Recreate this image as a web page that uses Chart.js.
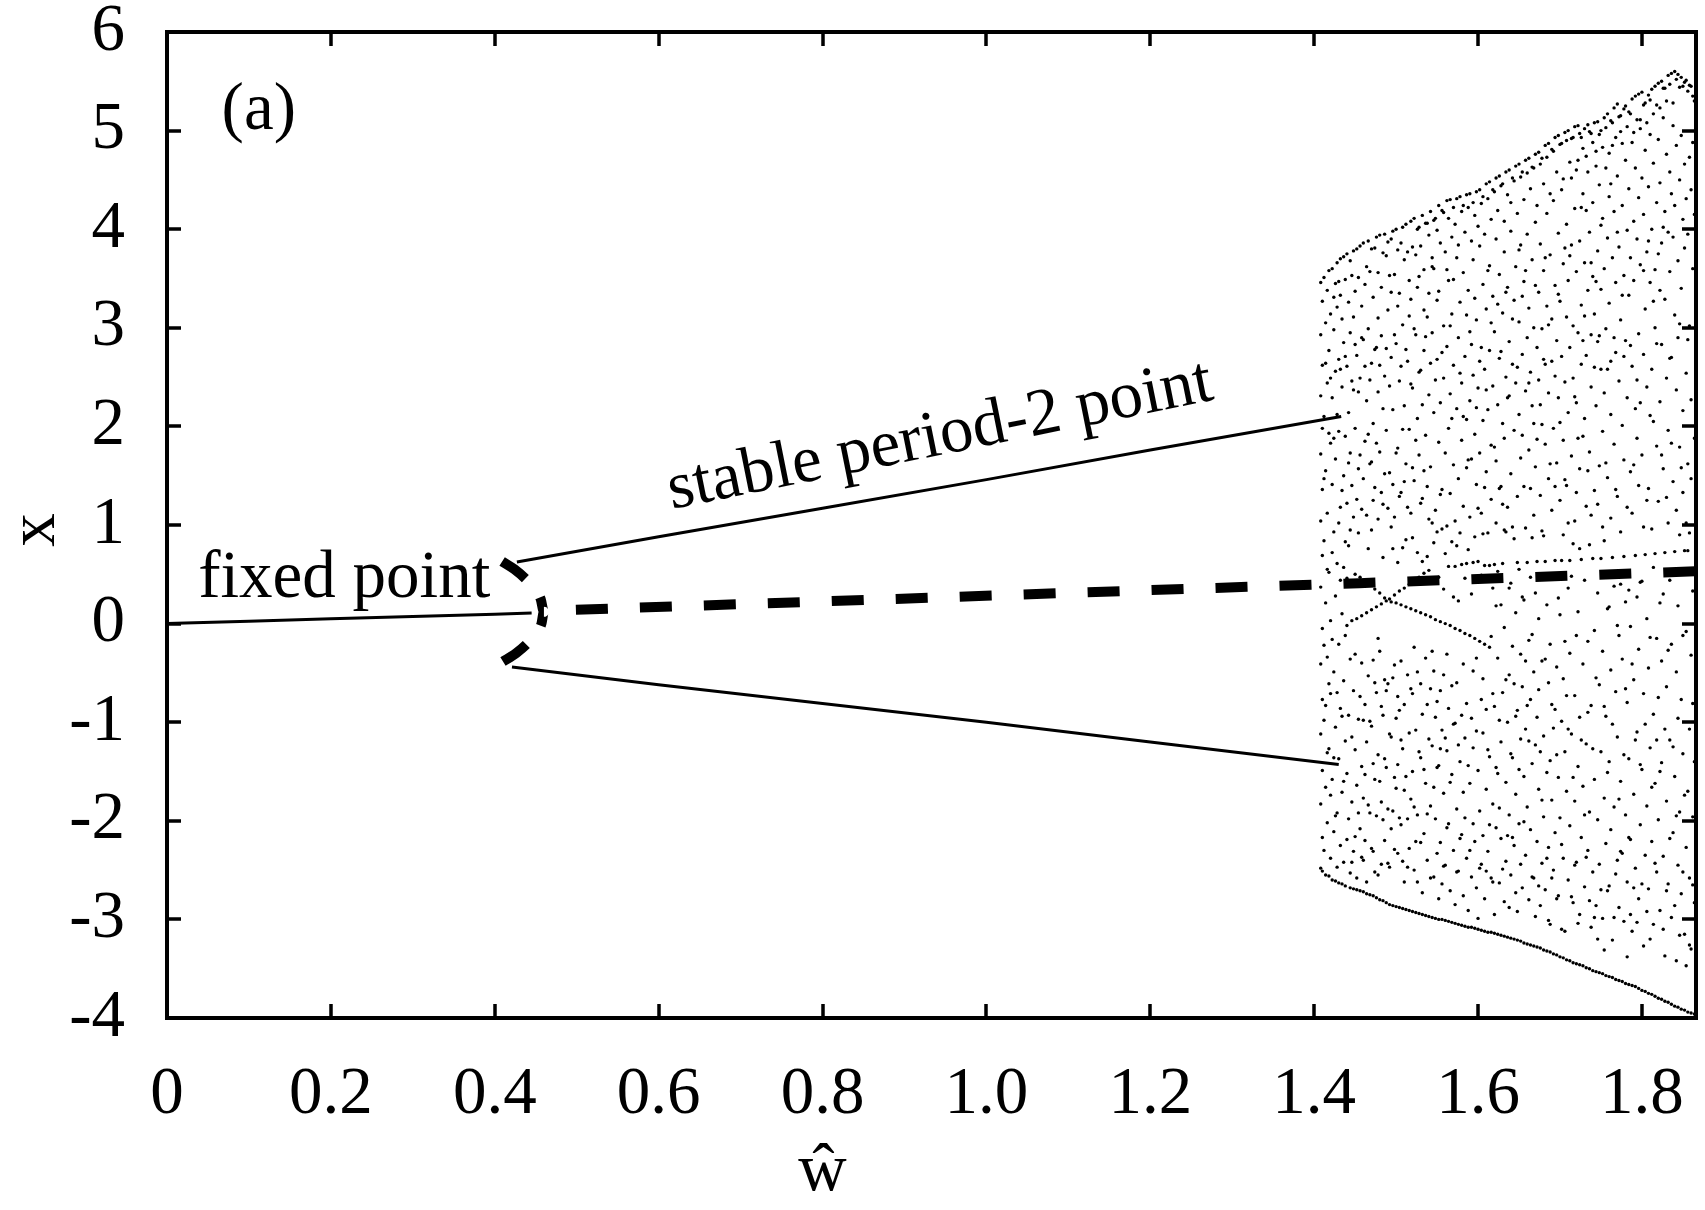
<!DOCTYPE html>
<html>
<head>
<meta charset="utf-8">
<script src="https://cdn.jsdelivr.net/npm/chart.js@4.4.1/dist/chart.umd.min.js"></script>
<style>
  html, body { margin: 0; padding: 0; background: #fff; }
  #wrap { width: 1705px; height: 1210px; }
</style>
</head>
<body>
<div id="wrap"><canvas id="bifurcation" width="1705" height="1210"></canvas></div>
<script>
//////////////////////////////
/////// Diagram values ///////
//////////////////////////////

// axis ticks
const xTickValues = [0, 0.2, 0.4, 0.6, 0.8, 1.0, 1.2, 1.4, 1.6, 1.8];
const xTickLabels = ['0', '0.2', '0.4', '0.6', '0.8', '1.0', '1.2', '1.4', '1.6', '1.8'];
const yTickValues = [-4, -3, -2, -1, 0, 1, 2, 3, 4, 5, 6];
const yTickLabels = ['-4', '-3', '-2', '-1', '0', '1', '2', '3', '4', '5', '6'];

// stable fixed point (w, x)
const fixedW = [0, 0.1, 0.2, 0.3, 0.4, 0.445];
const fixedX = [0, 0.024, 0.048, 0.072, 0.096, 0.107];

// stable period-2 orbit, upper and lower branch
const upperW = [0.427, 0.6, 0.8, 1.0, 1.2, 1.433];
const upperX = [0.625, 0.88, 1.17, 1.46, 1.76, 2.10];
const lowerW = [0.421, 0.6, 0.8, 1.0, 1.2, 1.43];
const lowerX = [-0.44, -0.62, -0.81, -1.0, -1.2, -1.43];

// unstable orbit near the bifurcation (turns back at w ~ 0.46)
const arcW = [0.409, 0.424, 0.438, 0.449, 0.456, 0.460, 0.457, 0.450, 0.440, 0.426, 0.409];
const arcX = [0.63, 0.55, 0.45, 0.35, 0.25, 0.12, 0.0, -0.1, -0.2, -0.3, -0.39];

// unstable fixed point
const unstableW = [0.46, 0.8, 1.2, 1.455, 1.866];
const unstableX = [0.13, 0.225, 0.34, 0.41, 0.53];

// chaotic band: w values of the sampled columns
const chaosW = [
  1.408, 1.410, 1.412, 1.414, 1.416, 1.418, 1.420, 1.422, 1.424, 1.426,
  1.428, 1.430, 1.432, 1.434, 1.436, 1.438, 1.440, 1.442, 1.444, 1.446,
  1.448, 1.450, 1.452, 1.454, 1.456, 1.458, 1.460, 1.462, 1.464, 1.466,
  1.468, 1.470, 1.472, 1.474, 1.476, 1.478, 1.480, 1.482, 1.484, 1.486,
  1.488, 1.490, 1.492, 1.494, 1.496, 1.498, 1.500, 1.502, 1.504, 1.506,
  1.508, 1.510, 1.512, 1.514, 1.516, 1.518, 1.520, 1.522, 1.524, 1.526,
  1.528, 1.530, 1.532, 1.534, 1.536, 1.538, 1.540, 1.542, 1.544, 1.546,
  1.548, 1.550, 1.552, 1.554, 1.556, 1.558, 1.560, 1.562, 1.564, 1.566,
  1.568, 1.570, 1.572, 1.574, 1.576, 1.578, 1.580, 1.582, 1.584, 1.586,
  1.588, 1.590, 1.592, 1.594, 1.596, 1.598, 1.600, 1.602, 1.604, 1.606,
  1.608, 1.610, 1.612, 1.614, 1.616, 1.618, 1.620, 1.622, 1.624, 1.626,
  1.628, 1.630, 1.632, 1.634, 1.636, 1.638, 1.640, 1.642, 1.644, 1.646,
  1.648, 1.650, 1.652, 1.654, 1.656, 1.658, 1.660, 1.662, 1.664, 1.666,
  1.668, 1.670, 1.672, 1.674, 1.676, 1.678, 1.680, 1.682, 1.684, 1.686,
  1.688, 1.690, 1.692, 1.694, 1.696, 1.698, 1.700, 1.702, 1.704, 1.706,
  1.708, 1.710, 1.712, 1.714, 1.716, 1.718, 1.720, 1.722, 1.724, 1.726,
  1.728, 1.730, 1.732, 1.734, 1.736, 1.738, 1.740, 1.742, 1.744, 1.746,
  1.748, 1.750, 1.752, 1.754, 1.756, 1.758, 1.760, 1.762, 1.764, 1.766,
  1.768, 1.770, 1.772, 1.774, 1.776, 1.778, 1.780, 1.782, 1.784, 1.786,
  1.788, 1.790, 1.792, 1.794, 1.796, 1.798, 1.800, 1.802, 1.804, 1.806,
  1.808, 1.810, 1.812, 1.814, 1.816, 1.818, 1.820, 1.822, 1.824, 1.826,
  1.828, 1.830, 1.832, 1.834, 1.836, 1.838, 1.840, 1.842, 1.844, 1.846,
  1.848, 1.850, 1.852, 1.854, 1.856, 1.858, 1.860, 1.862, 1.864
];

// iterates x for each column above
const chaosX = [
  // 1.408
  [3.46, 2.93, 2.31, 1.72, 1.04, 0.37, -0.41, -1.12, -1.83, -2.48],
  [3.27, 2.62, 1.98, 1.36, 0.69, -0.05, -0.77, -1.49, -2.17, -2.51],
  [3.51, 2.10, 0.84, -0.98, -2.30, 1.47, -0.22],
  [3.05, 1.55, 0.21, -1.66, -2.55, 2.64, -0.83],
  [3.38, 2.44, 1.12, -0.34, -2.02, 0.55, -1.31],
  [3.58, 2.77, 0.52, -1.27, -2.56, 1.93, -0.61],
  [3.14, 1.83, 0.03, -0.71, -2.38, 2.49, -1.74],
  [3.60, 2.29, 1.41, -1.58, -2.60, 0.72, -0.16],
  [2.98, 0.93, -0.49, -2.11, 3.31, 1.88, -1.36],
  [3.45, 2.56, 1.67, 0.28, -1.05, -2.61, -1.95],
  // 1.428
  [3.66, 3.21, 0.61, -1.92, -2.47, 2.12, -0.70],
  [2.68, 1.95, -0.21, -1.37, -2.63, 3.47, 1.02],
  [3.70, 3.33, 1.18, 0.44, -0.86, -2.25, 2.58],
  [3.09, 2.40, 0.10, -1.71, -2.64, 1.35, -0.94],
  [3.72, 2.85, 1.50, 0.57, -0.58, -2.42, -1.60],
  [3.49, 1.90, -0.12, -1.19, -2.66, 2.71, 0.83],
  [3.75, 2.61, 1.22, -0.02, -1.52, -2.19, 0.46],
  [3.26, 2.14, -0.93, 1.63, -1.98, 0.79],
  [3.68, 2.95, 1.73, -0.36, -2.53, -2.68, 0.95],
  [3.53, 1.40, 0.03, -1.81, 2.46, -1.15, -2.42],
  // 1.448
  [3.78, 3.11, 2.37, -0.68, -2.31, -2.69, 1.08],
  [3.37, 1.98, 0.50, -1.28, 2.83, -0.31, -2.16],
  [3.80, 2.72, 0.05, -1.64, -2.58, -2.70, 1.26],
  [3.51, 1.57, -0.97, 2.35, 0.92, -1.92],
  [3.83, 2.49, 0.47, -2.08, -2.71, -0.74, 1.71],
  [3.22, 1.16, 0.08, -1.45, 2.90, -0.40, -2.37],
  [3.86, 2.88, -1.77, -2.40, -2.72, 1.47, -0.98],
  [3.44, 1.85, 0.43, -0.82, 2.61, -1.53, -2.20],
  [3.62, 2.26, 0.11, -1.20, -2.62, -2.74, 1.10],
  [3.88, 2.99, -0.53, 1.92, -1.84, 0.76],
  // 1.468
  [3.57, 1.62, 0.39, -1.92, -2.75, 2.47, -0.99],
  [3.80, 2.64, 0.95, 0.14, -1.04, -2.28, 1.64],
  [3.31, 2.03, -0.37, -2.31, -2.76, 1.25, -1.42],
  [3.81, 1.38, 0.35, -1.58, 2.78, -0.60, -2.52],
  [3.92, 2.80, 0.17, -0.70, -2.78, 1.83, -1.95],
  [3.56, 2.35, -1.33, -2.55, 1.06, -0.15, 3.10],
  [3.94, 1.74, 0.31, -0.28, -2.80, 2.62, -1.60],
  [3.41, 2.92, 0.20, -1.81, 1.33, -0.84, -2.44],
  [3.76, 1.21, -0.93, -2.81, 2.18, 0.67, -1.99],
  [3.95, 2.51, 0.26, -2.20, 1.52, -0.57, -1.37],
  // 1.488
  [3.73, 1.96, 0.23, -1.46, -2.83, 2.79, -0.68],
  [3.87, 3.18, -0.61, 1.17, -1.88, -2.43],
  [3.53, 1.53, 0.25, -2.47, -2.85, 2.41, -1.12],
  [3.90, 2.70, 0.22, -1.15, 0.98, -2.08, 3.36],
  [3.98, 2.17, -1.90, -2.86, 1.41, -0.55, 0.76],
  [3.54, 1.08, 0.29, -0.42, 2.93, -1.56, -2.29],
  [4.00, 2.84, 0.21, -1.67, -2.87, 1.73, -0.96],
  [3.79, 1.78, -2.33, 3.22, 0.62, -0.74, -1.43],
  [3.35, 2.46, 0.33, -0.88, -2.88, 1.29, -1.97],
  [3.86, 1.33, 0.19, -2.04, 2.61, -1.18, -0.38],
  // 1.508
  [4.02, 3.03, -1.27, -2.89, 1.97, 0.77, -2.41],
  [3.69, 2.21, 0.36, -2.62, 1.44, -0.82, -1.69],
  [4.05, 1.62, 0.85, 0.17, -1.55, -2.90, 2.78],
  [3.77, 2.66, -0.52, 1.18, -1.98, -2.47],
  [3.48, 1.97, 0.40, -2.28, -2.91, 3.12, -1.11],
  [4.08, 3.29, 1.12, 0.15, -1.78, -0.66, 2.43],
  [3.82, 2.39, -0.71, -2.92, 1.58, -1.50, 0.87],
  [4.11, 1.45, 0.43, -2.50, 2.99, -0.24, -1.86],
  [3.74, 2.93, 0.13, -1.08, -2.93, 1.86, -2.21],
  [4.00, 2.08, -1.94, 0.72, -0.49, 3.41, -2.62],
  // 1.528
  [4.02, 3.52, 1.71, 0.47, -2.94, -1.30, 2.55],
  [3.83, 2.57, 0.11, -1.36, 1.22, -2.22, -0.61],
  [4.14, 1.27, -0.92, -2.73, -2.95, 2.22, 0.63],
  [3.59, 2.77, 0.51, -2.13, 1.55, -1.48, 3.18],
  [4.06, 1.91, 0.09, -1.62, -2.96, 2.91, -0.35],
  [4.06, 3.11, -2.40, 1.39, -0.82, 0.68, -1.93],
  [3.94, 2.32, 1.06, 0.54, -2.97, -1.17, 3.35],
  [4.18, 1.59, 0.07, -0.66, -1.85, 2.64, -2.58],
  [3.71, 2.95, -1.24, -2.98, 1.02, -0.28, 3.62],
  [4.09, 3.60, 2.14, -0.48, -2.57, 0.82, -1.66],
  // 1.548
  [4.11, 1.15, 0.04, -1.98, -2.99, 2.47, -0.95],
  [3.99, 2.68, 0.93, -0.79, -2.33, 3.28, -1.46],
  [4.24, 3.37, 1.84, -1.44, -2.79, -3.00, 0.47],
  [3.86, 2.24, 0.02, -2.22, 1.31, -0.68, -1.27],
  [4.19, 1.36, 0.96, -1.08, -2.64, -3.00, 2.75],
  [4.17, 3.02, 2.49, -1.72, 0.35, -0.52, -2.46],
  [3.77, 1.73, 0.71, 0.00, -2.45, -3.01, -1.16],
  [4.29, 2.81, 0.99, -1.29, -2.07, 3.59, -0.31],
  [4.11, 3.48, 1.98, -0.86, -2.03, -3.02, 0.58],
  [4.30, 2.33, 1.32, -0.02, -2.71, -1.61, 3.02],
  // 1.568
  [3.92, 3.14, 0.83, -1.53, -3.03, 2.08, -0.63],
  [4.22, 2.62, 1.61, -2.30, 0.27, -1.02, 3.49],
  [4.05, 1.04, 0.58, -0.05, -1.01, -2.85, -3.04],
  [4.31, 3.71, 2.18, -1.88, 0.79, -0.60, -2.52],
  [3.84, 2.90, 1.47, -2.51, -3.05, -1.23, 0.23],
  [4.33, 3.26, 0.92, -0.07, -1.40, 2.54, -2.18],
  [4.18, 2.44, 1.86, 0.60, -2.14, -3.06, -0.93],
  [4.24, 3.56, 1.19, -2.76, 2.10, -0.41, -1.71],
  [3.97, 2.71, 0.46, -0.10, -1.16, -1.97, -3.07],
  [4.35, 2.07, 1.58, 0.61, -2.38, 3.13, -0.81],
  // 1.588
  [4.22, 3.38, 0.75, -2.91, -3.08, 1.66, -1.44],
  [4.36, 2.96, 2.26, 1.08, -0.12, -1.62, -2.30],
  [3.88, 1.67, 0.30, -2.57, -3.08, 2.83, -0.96],
  [4.27, 3.69, 2.52, 0.62, -1.26, -2.03, -0.48],
  [4.14, 1.92, 0.88, -0.15, -2.21, -3.09, 3.30],
  [4.38, 3.08, 1.41, -2.68, 2.19, -1.09, -0.35],
  [4.03, 2.39, 0.63, -1.49, -2.99, -3.10, 1.17],
  [4.40, 3.83, 1.73, -0.18, -1.90, 2.66, -2.48],
  [4.26, 2.80, 1.12, 0.49, -2.44, -3.11, -0.77],
  [4.33, 3.44, 2.06, -1.11, 0.91, -2.15, -0.56],
  // 1.608
  [3.95, 2.58, 0.59, -0.21, -2.79, -3.12, 1.38],
  [4.46, 3.19, 1.54, -1.68, 2.37, -0.87, -2.51],
  [4.31, 2.17, 0.92, -2.31, -3.13, -1.28, 3.58],
  [4.48, 3.63, 2.77, 0.59, -0.24, -1.35, -2.04],
  [4.10, 1.81, 1.26, -0.13, -2.58, -3.13, 3.05],
  [4.40, 3.32, 2.41, 0.36, -1.83, -0.71, -2.62],
  [4.38, 2.96, 0.60, -0.84, -2.95, -3.14, 1.79],
  [4.52, 3.90, 1.65, 1.02, -2.07, -1.46, 0.18],
  [4.19, 2.22, 0.53, -0.35, -1.52, -3.15, 3.24],
  [4.54, 3.54, 2.69, -2.63, 1.37, -0.98, -1.87],
  // 1.628
  [4.44, 1.39, 0.19, -1.20, -2.18, -3.16, 2.76],
  [4.46, 3.15, 2.03, 0.61, -0.70, -2.49, 1.21],
  [4.08, 3.77, 1.88, -0.04, -2.82, -3.17, 0.95],
  [4.58, 2.50, 0.93, -1.61, -2.41, 3.36, -0.57],
  [4.35, 3.41, 1.18, -1.00, -3.18, 2.29, -2.15],
  [4.60, 2.86, 2.31, -0.52, -1.94, 0.36, -2.88],
  [4.27, 3.98, 1.52, 0.41, -2.55, -3.19, -1.32],
  [4.52, 2.63, -0.23, -1.36, 3.09, 0.98, -2.17],
  [4.49, 3.28, 1.96, 0.86, -2.25, -3.20, -0.61],
  [4.64, 3.62, 2.44, 0.11, -1.73, -0.94, -2.73],
  // 1.648
  [4.16, 1.29, 0.62, -0.88, -2.92, -3.21, 2.60],
  [4.66, 3.06, 2.12, 0.55, -2.03, -1.48, 3.79],
  [4.53, 3.84, 1.68, -0.31, -1.17, -3.22, -2.44],
  [4.58, 2.73, -0.64, -2.68, 1.91, 0.27, 3.32],
  [4.30, 3.47, 1.39, 0.24, -1.55, -3.24, -2.01],
  [4.70, 2.36, 0.97, -1.07, -2.35, 3.58, -0.38],
  [4.57, 3.95, 2.90, 0.62, -1.86, -3.25, -0.83],
  [4.72, 3.20, 1.76, -0.17, -2.80, 2.44, -1.19],
  [4.41, 2.55, 0.47, -0.77, -2.09, -3.26, 1.37],
  [4.63, 3.69, 2.21, -1.42, 0.87, -2.57, -0.11],
  // 1.668
  [4.62, 3.00, 1.10, -0.49, -2.58, -3.27, 2.03],
  [4.76, 4.07, 1.59, 0.31, -1.23, -2.97, 3.43],
  [4.24, 2.80, 0.63, -0.95, -2.21, -3.28, 1.87],
  [4.78, 3.36, 2.47, 0.05, -1.68, -2.66, -0.67],
  [4.66, 3.85, 1.30, -2.86, -3.29, 2.22, -1.30],
  [4.72, 2.99, 2.02, -0.38, -2.43, 0.94, -1.79],
  [4.46, 3.58, 0.89, -1.14, -1.96, -3.31, 2.68],
  [4.85, 2.63, 1.82, 0.63, -2.70, -0.36, 3.71],
  [4.73, 4.16, 3.22, 0.19, -1.51, -3.32, -2.38],
  [4.87, 2.34, 1.47, -0.60, -2.27, 3.03, -3.01],
  // 1.688
  [4.36, 3.74, -0.21, -3.05, -3.33, 1.62, -1.39],
  [4.81, 3.09, 2.66, 1.15, -1.79, -0.82, -2.58],
  [4.79, 4.29, 1.98, 0.47, -2.50, -3.35, -1.06],
  [4.93, 3.43, 0.64, -0.87, -2.12, 2.51, 1.39],
  [4.58, 2.87, 1.63, -0.44, -1.33, -3.36, -2.79],
  [4.95, 3.96, 2.29, -2.76, 0.26, -1.56, 3.34],
  [4.86, 3.27, 1.25, 0.09, -1.97, -3.38, 2.04],
  [4.87, 4.40, 2.71, 0.64, -0.99, -2.24, -3.10],
  [4.51, 3.65, 1.86, -0.56, -2.38, -3.39, 0.90],
  [4.98, 2.45, -1.30, -3.12, 1.46, -0.18, 3.81],
  // 1.708
  [4.90, 4.05, 3.11, 1.40, -1.70, -3.41, -0.73],
  [5.00, 3.48, 2.14, 0.36, -2.60, -1.07, 1.02],
  [4.68, 2.80, 0.64, -0.30, -2.05, -3.42, 3.73],
  [4.92, 4.52, 3.84, 1.70, -1.12, -2.77, 0.48],
  [4.93, 3.02, 2.49, 0.81, -2.83, -3.44, -1.56],
  [5.04, 4.21, 1.04, -0.73, -1.80, 2.30, -2.45],
  [4.60, 3.57, 2.24, -2.42, -3.45, -0.12, 1.33],
  [5.05, 4.70, 2.95, 0.12, -1.45, -3.04, 1.88],
  [4.97, 3.88, 1.57, -0.95, -2.95, -3.46, 0.76],
  [4.93, 3.23, 2.63, 0.65, -2.17, -1.18, 4.22],
  // 1.728
  [4.82, 4.36, 1.90, -0.41, -1.65, -3.47, 2.87],
  [5.02, 3.66, 2.08, 0.44, -2.67, -1.94, 3.12],
  [4.74, 2.72, 1.19, -1.22, -3.49, -2.37, 4.19],
  [5.06, 4.58, 3.38, -0.18, -2.30, 1.55, -0.90],
  [4.99, 3.97, 1.74, 0.80, -1.91, -3.50, -2.81],
  [4.97, 2.93, 2.40, -0.83, -3.08, 1.10, 3.66],
  [4.88, 4.27, 3.52, 0.66, -2.52, -3.52, -1.27],
  [5.08, 3.14, 1.35, -0.07, -1.58, 2.60, -2.98],
  [4.64, 4.79, 2.21, -2.86, -3.53, -0.55, 3.47],
  [5.09, 3.78, 2.86, 0.31, -1.99, 1.21, -3.20],
  // 1.748
  [4.96, 4.45, 1.60, -0.62, -2.44, -3.54, 2.92],
  [5.00, 3.39, 2.58, 0.66, -1.30, -2.70, 4.04],
  [4.83, 4.11, 1.95, -0.28, -2.99, -3.55, 0.98],
  [5.13, 3.60, 2.34, 0.84, -1.77, -0.84, -3.31],
  [5.03, 4.62, 2.99, -0.94, -2.23, -3.57, 1.63],
  [5.17, 3.91, 1.48, -2.71, 0.15, 2.58, -1.51],
  [4.77, 4.33, 3.25, 0.17, -1.40, -3.58, -2.66],
  [5.10, 2.66, 2.12, -0.47, -2.09, 1.07, 4.46],
  [5.08, 4.85, 3.71, 0.67, -3.21, -3.59, -1.02],
  [5.23, 4.18, 1.82, 0.38, -1.86, -2.98, 2.90],
  // 1.768
  [4.93, 3.46, 2.75, -0.69, -2.54, -3.61, 1.36],
  [5.27, 4.54, 1.29, -1.15, -2.40, 3.97, -0.02],
  [5.14, 3.82, 2.46, -0.12, -2.88, -3.62, -1.78],
  [5.15, 4.99, 3.08, 0.93, -1.60, -2.31, 0.40],
  [4.87, 4.24, 2.01, -0.36, -2.33, -3.63, 3.33],
  [5.22, 3.53, 1.66, 0.68, -3.02, -1.33, 2.71],
  [5.25, 4.70, 2.87, 0.22, -1.94, -3.65, -0.66],
  [5.04, 3.99, 2.29, -0.80, -2.62, 1.18, -3.38],
  [5.19, 4.41, 3.33, -1.37, -3.66, 0.34, -2.17],
  [5.17, 3.71, 1.54, -0.03, -2.19, 2.82, -2.95],
  // 1.788
  [5.32, 4.88, 2.61, 1.12, -3.12, -3.67, -0.41],
  [4.98, 4.08, 3.48, -0.57, -1.73, 1.61, -2.68],
  [5.35, 4.62, 2.18, 0.69, -2.48, -3.68, -1.18],
  [5.11, 3.90, 1.88, 0.27, -1.10, -3.03, 2.47],
  [5.37, 4.32, 2.94, -0.26, -2.79, -3.70, 1.40],
  [5.11, 5.02, 3.64, -2.04, 0.42, -1.43, 2.24],
  [5.39, 4.52, 1.71, 0.43, -1.48, -3.72, -2.64],
  [5.26, 4.15, 2.73, -0.71, -3.27, 0.98, 3.58],
  [5.28, 4.80, 3.19, 0.70, -2.35, -3.73, -1.02],
  [5.08, 3.77, 2.40, 0.05, -1.85, -2.92, 1.25],
  // 1.808
  [5.36, 4.43, 1.37, -0.45, -2.69, -3.75, 3.88],
  [5.31, 4.96, 3.46, -1.26, -0.14, 2.11, -3.20],
  [5.42, 4.00, 2.58, 0.96, -2.21, -3.76, -1.66],
  [5.17, 4.67, 2.05, -0.92, -3.05, 3.27, 0.57],
  [5.45, 3.59, 3.00, 0.71, -1.62, -3.78, -2.43],
  [5.26, 4.27, 1.80, -0.15, -2.52, 2.84, -1.18],
  [5.48, 4.91, 3.75, 1.24, -1.99, -3.80, -0.75],
  [5.23, 4.47, 2.25, -2.91, 0.21, -1.50, 3.38],
  [5.50, 3.86, 2.83, -0.38, -1.41, -3.81, 1.71],
  [5.43, 5.13, 1.57, 0.30, -2.36, -3.10, 4.02],
  // 1.828
  [5.43, 4.18, 3.29, 0.72, -3.37, -3.83, -1.07],
  [5.30, 4.76, 2.49, -0.64, -1.80, 1.28, -2.71],
  [5.56, 3.97, 1.96, 1.02, -2.64, -3.84, -0.27],
  [5.47, 4.58, 3.57, -1.18, -2.18, 0.44, 2.69],
  [5.58, 4.36, 2.70, -0.21, -2.98, -3.86, 1.83],
  [5.28, 5.05, 1.44, 0.49, -2.12, -1.25, 3.92],
  [5.60, 4.24, 3.13, 0.73, -1.55, -3.88, -2.86],
  [5.52, 4.85, 2.37, -0.49, -3.42, 1.15, -1.95],
  [5.57, 3.68, 2.90, 0.18, -2.45, -3.89, -0.96],
  [5.44, 4.50, 1.79, -1.91, -3.16, 0.90, 3.04],
  // 1.848
  [5.54, 4.95, 3.40, -0.77, -2.74, -3.91, 1.58],
  [5.45, 4.10, 2.16, 1.33, -1.32, -2.52, -0.12],
  [5.49, 4.66, 3.81, 0.74, -3.15, -3.92, -1.74],
  [5.51, 4.31, 2.54, -0.08, -2.27, 1.02, -3.47],
  [5.40, 3.95, 1.62, 0.74, -1.70, -3.94, 2.88],
  [5.46, 4.73, 3.02, 0.92, -2.58, -1.07, -3.26],
  [5.45, 4.40, 2.27, -0.32, -3.30, -3.95, 1.47],
  [5.35, 4.88, 3.60, -1.96, -2.65, 0.33, -0.81],
  [5.30, 4.15, 1.88, 0.53, -2.83, -3.96, -1.40]
];

// text placed in data coordinates
const panelTag = { text: '(a)', w: 0.112, x: 5.19 };
const fixedTag = { text: 'fixed point', w: 0.038, x: 0.27 };
const period2Tag = { text: 'stable period-2 point', w: 0.616, x: 1.162, angle: -11.4 };

const serif = '"Liberation Serif", "Times New Roman", serif';
const fontSize = 67;

// turn the (w, x) lists into point objects for chart.js
function toPoints(ws, xs) {
  return ws.map((w, i) => ({ x: w, y: xs[i] }));
}

var cloud = [];
chaosW.forEach((w, i) => {
  (chaosX[i] || []).forEach(v => cloud.push({ x: w, y: v }));
});

// frame with inward ticks on all four sides, plus the labels
const framePlugin = {
  id: 'frame',
  afterDraw(chart) {
    const ctx = chart.ctx;
    const a = chart.chartArea;
    const xs = chart.scales.x, ys = chart.scales.y;
    ctx.save();
    ctx.strokeStyle = '#000';
    ctx.lineWidth = 3.5;
    ctx.beginPath();
    xTickValues.forEach(v => {
      const px = Math.round(xs.getPixelForValue(v));
      ctx.moveTo(px, a.bottom); ctx.lineTo(px, a.bottom - 14);
      ctx.moveTo(px, a.top); ctx.lineTo(px, a.top + 14);
    });
    yTickValues.forEach(v => {
      const py = Math.round(ys.getPixelForValue(v));
      ctx.moveTo(a.left, py); ctx.lineTo(a.left + 14, py);
      ctx.moveTo(a.right, py); ctx.lineTo(a.right - 14, py);
    });
    ctx.stroke();
    ctx.lineWidth = 4;
    ctx.strokeRect(a.left, a.top, a.right - a.left, a.bottom - a.top);

    ctx.fillStyle = '#000';
    ctx.font = fontSize + 'px ' + serif;

    // (a)
    ctx.textAlign = 'center';
    ctx.textBaseline = 'middle';
    ctx.fillText(panelTag.text, xs.getPixelForValue(panelTag.w), ys.getPixelForValue(panelTag.x));

    // fixed point
    ctx.textAlign = 'left';
    ctx.textBaseline = 'alphabetic';
    ctx.fillText(fixedTag.text, xs.getPixelForValue(fixedTag.w), ys.getPixelForValue(fixedTag.x));

    // rotated label along the upper branch
    ctx.save();
    ctx.translate(xs.getPixelForValue(period2Tag.w), ys.getPixelForValue(period2Tag.x));
    ctx.rotate(period2Tag.angle * Math.PI / 180);
    ctx.fillText(period2Tag.text, 0, 0);
    ctx.restore();

    // axis titles
    ctx.textAlign = 'center';
    ctx.fillText('\u0175', xs.getPixelForValue(0.8), 1190);
    ctx.save();
    ctx.translate(54, ys.getPixelForValue(0.95));
    ctx.rotate(-Math.PI / 2);
    ctx.fillText('x', 0, 0);
    ctx.restore();

    ctx.restore();
  }
};

var myChart = new Chart(document.getElementById('bifurcation'), {
  type: 'scatter',
  data: {
    datasets: [
      {
        // unstable fixed point, thick dashes
        data: toPoints(unstableW, unstableX),
        showLine: true,
        borderColor: '#000',
        borderWidth: 10,
        borderDash: [32, 32],
        borderDashOffset: 32,
        borderCapStyle: 'butt',
        pointRadius: 0
      },
      {
        data: toPoints(arcW, arcX),
        showLine: true,
        borderColor: '#000',
        borderWidth: 10,
        borderDash: [29, 24],
        borderCapStyle: 'butt',
        cubicInterpolationMode: 'monotone',
        tension: 0.4,
        pointRadius: 0
      },
      {
        data: toPoints(fixedW, fixedX),
        showLine: true,
        borderColor: '#000',
        borderWidth: 3,
        pointRadius: 0
      },
      {
        data: toPoints(upperW, upperX),
        showLine: true,
        borderColor: '#000',
        borderWidth: 3,
        pointRadius: 0
      },
      {
        data: toPoints(lowerW, lowerX),
        showLine: true,
        borderColor: '#000',
        borderWidth: 3,
        pointRadius: 0
      },
      {
        // chaotic iterates
        data: cloud,
        backgroundColor: '#000',
        borderWidth: 0,
        pointRadius: 1.7,
        pointHoverRadius: 1.7
      }
    ]
  },
  options: {
    responsive: false,
    animation: false,
    events: [],
    layout: { padding: { top: 32, right: 9, left: 0, bottom: 0 } },
    plugins: {
      legend: { display: false },
      tooltip: { enabled: false }
    },
    scales: {
      x: {
        type: 'linear',
        min: 0,
        max: 1.866,
        border: { display: false },
        grid: { display: false, drawTicks: false },
        afterBuildTicks: (s) => { s.ticks = xTickValues.map(v => ({ value: v })); },
        afterFit: (s) => {
          s.height = 192;
          s.paddingLeft = 0;
          s.paddingRight = 0;
        },
        ticks: {
          color: '#000',
          padding: 37,
          maxRotation: 0,
          autoSkip: false,
          font: { family: serif, size: fontSize },
          callback: (v, i) => xTickLabels[i]
        }
      },
      y: {
        type: 'linear',
        min: -4,
        max: 6,
        border: { display: false },
        grid: { display: false, drawTicks: false },
        afterBuildTicks: (s) => { s.ticks = yTickValues.map(v => ({ value: v })); },
        afterFit: (s) => {
          s.width = 167;
          s.paddingTop = 0;
          s.paddingBottom = 0;
        },
        ticks: {
          color: '#000',
          padding: 42,
          autoSkip: false,
          font: { family: serif, size: fontSize },
          callback: (v, i) => yTickLabels[i]
        }
      }
    }
  },
  plugins: [framePlugin]
});
</script>
</body>
</html>
